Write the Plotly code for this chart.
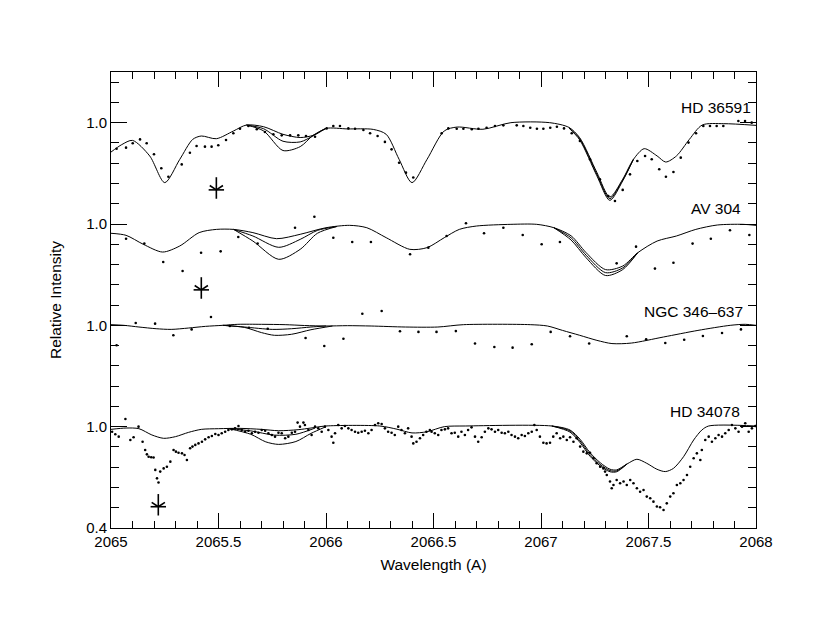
import plotly.graph_objects as go

# ---------------- data (relative intensity, each spectrum shifted by an offset) ----------------
offsets = {"HD 36591": 1.8, "AV 304": 1.2, "NGC 346–637": 0.6, "HD 34078": 0.0}

# HD 36591
hd36591_model_wl = [2065.00, 2065.05, 2065.10, 2065.18, 2065.25, 2065.32, 2065.38, 2065.42, 2065.49, 2065.57,
                    2065.63, 2065.71, 2065.80, 2065.88, 2065.94, 2066.00, 2066.10, 2066.22, 2066.28, 2066.34,
                    2066.40, 2066.47, 2066.55, 2066.61, 2066.73, 2066.86, 2067.04, 2067.13, 2067.18, 2067.26,
                    2067.32, 2067.38, 2067.43, 2067.48, 2067.54, 2067.58, 2067.63, 2067.69, 2067.75, 2067.85, 2068.00]
hd36591_model = [0.826, 0.870, 0.895, 0.803, 0.645, 0.783, 0.901, 0.921, 0.905, 0.951,
                 0.986, 0.976, 0.931, 0.912, 0.925, 0.966, 0.963, 0.960, 0.931, 0.783,
                 0.645, 0.783, 0.951, 0.974, 0.961, 1.000, 1.000, 0.972, 0.911, 0.705,
                 0.560, 0.665, 0.783, 0.846, 0.803, 0.767, 0.803, 0.901, 0.986, 0.994, 0.984]
hd36591_var_wl_a = [2065.63, 2065.71, 2065.80, 2065.88, 2065.94, 2066.00]
hd36591_var_mid_a = [0.986, 0.964, 0.890, 0.886, 0.922, 0.966]
hd36591_var_deep_a = [0.986, 0.951, 0.835, 0.858, 0.925, 0.966]
hd36591_var_wl_b = [2067.13, 2067.18, 2067.26, 2067.32, 2067.38, 2067.43]
hd36591_var_mid_b = [0.970, 0.905, 0.695, 0.550, 0.660, 0.783]
hd36591_var_deep_b = [0.968, 0.898, 0.685, 0.540, 0.655, 0.783]
hd36591_obs_wl = [2065.026, 2065.070, 2065.101, 2065.135, 2065.166, 2065.200, 2065.234, 2065.267, 2065.329, 2065.367,
                  2065.398, 2065.437, 2065.468, 2065.499, 2065.535, 2065.569, 2065.600, 2065.639, 2065.678, 2065.716,
                  2065.755, 2065.794, 2065.833, 2065.871, 2065.907, 2065.949, 2066.003, 2066.034, 2066.065, 2066.104,
                  2066.135, 2066.174, 2066.205, 2066.240, 2066.274, 2066.305, 2066.340, 2066.372, 2066.406, 2066.538,
                  2066.569, 2066.608, 2066.639, 2066.678, 2066.709, 2066.747, 2066.786, 2066.825, 2066.887, 2066.918,
                  2066.950, 2066.981, 2067.011, 2067.043, 2067.074, 2067.107, 2067.143, 2067.181, 2067.228, 2067.274,
                  2067.313, 2067.344, 2067.380, 2067.414, 2067.448, 2067.484, 2067.515, 2067.550, 2067.581, 2067.616,
                  2067.650, 2067.686, 2067.721, 2067.755, 2067.786, 2067.817, 2067.848, 2067.918, 2067.949, 2067.980]
hd36591_obs = [0.846, 0.852, 0.878, 0.901, 0.878, 0.813, 0.730, 0.680, 0.753, 0.822,
               0.862, 0.858, 0.858, 0.866, 0.897, 0.937, 0.964, 0.980, 0.961, 0.945,
               0.931, 0.925, 0.925, 0.925, 0.921, 0.917, 0.966, 0.980, 0.980, 0.966,
               0.964, 0.957, 0.937, 0.921, 0.886, 0.842, 0.763, 0.704, 0.675, 0.937,
               0.966, 0.964, 0.964, 0.961, 0.964, 0.970, 0.980, 0.984, 0.984, 0.980,
               0.970, 0.964, 0.964, 0.970, 0.976, 0.966, 0.937, 0.892, 0.783, 0.665,
               0.566, 0.536, 0.602, 0.694, 0.773, 0.803, 0.783, 0.724, 0.680, 0.708,
               0.793, 0.882, 0.937, 0.980, 0.980, 0.980, 0.980, 1.010, 1.010, 1.000]

# AV 304
av304_model_wl = [2065.00, 2065.07, 2065.15, 2065.24, 2065.32, 2065.41, 2065.49, 2065.57, 2065.66, 2065.77,
                  2065.88, 2066.00, 2066.11, 2066.19, 2066.28, 2066.39, 2066.47, 2066.55, 2066.62, 2066.70,
                  2066.86, 2066.98, 2067.06, 2067.14, 2067.21, 2067.30, 2067.38, 2067.45, 2067.54, 2067.63,
                  2067.72, 2067.82, 2067.94, 2068.00]
av304_model = [0.945, 0.933, 0.880, 0.834, 0.870, 0.949, 0.968, 0.968, 0.949, 0.913,
               0.939, 0.978, 0.992, 0.978, 0.919, 0.850, 0.860, 0.919, 0.968, 0.988,
               0.998, 0.998, 0.978, 0.930, 0.830, 0.730, 0.751, 0.830, 0.899, 0.929,
               0.968, 0.994, 0.998, 0.992]
av304_var_wl_a = [2065.57, 2065.66, 2065.78, 2065.88, 2065.96, 2066.05]
av304_var_mid_a = [0.968, 0.929, 0.862, 0.909, 0.962, 0.985]
av304_var_deep_a = [0.968, 0.899, 0.791, 0.850, 0.945, 0.985]
av304_var_wl_b = [2067.06, 2067.14, 2067.21, 2067.30, 2067.38, 2067.45]
av304_var_mid_b = [0.978, 0.918, 0.815, 0.712, 0.740, 0.830]
av304_var_deep_b = [0.978, 0.905, 0.800, 0.695, 0.730, 0.830]
av304_obs_wl = [2065.070, 2065.155, 2065.243, 2065.333, 2065.419, 2065.510, 2065.592, 2065.682, 2065.856, 2065.946,
                2066.034, 2066.122, 2066.209, 2066.391, 2066.476, 2066.561, 2066.651, 2066.735, 2066.825, 2066.915,
                2067.003, 2067.088, 2067.352, 2067.442, 2067.530, 2067.616, 2067.705, 2067.790, 2067.879, 2067.969]
av304_obs = [0.913, 0.884, 0.775, 0.722, 0.830, 0.838, 0.923, 0.884, 0.978, 1.043,
             0.919, 0.893, 0.893, 0.821, 0.860, 0.929, 1.004, 0.945, 0.978, 0.935,
             0.880, 0.893, 0.767, 0.866, 0.736, 0.771, 0.884, 0.913, 0.963, 0.935]

# NGC 346-637
ngc346_model_wl = [2065.00, 2065.06, 2065.13, 2065.21, 2065.28, 2065.36, 2065.44, 2065.52, 2065.59, 2065.70,
                   2065.81, 2065.90, 2066.00, 2066.10, 2066.21, 2066.37, 2066.52, 2066.64, 2066.95, 2067.03,
                   2067.10, 2067.18, 2067.26, 2067.33, 2067.42, 2067.57, 2067.73, 2067.88, 2067.95, 2068.00]
ngc346_model = [1.004, 1.000, 0.990, 0.980, 0.976, 0.984, 0.994, 1.000, 1.006, 1.006,
                1.004, 0.999, 0.996, 0.998, 0.996, 0.990, 0.990, 1.004, 1.004, 0.996,
                0.970, 0.941, 0.911, 0.892, 0.895, 0.931, 0.970, 1.000, 1.006, 1.000]
ngc346_var_wl_mid = [2065.52, 2065.62, 2065.75, 2065.84, 2065.93, 2066.00]
ngc346_var_mid = [1.000, 0.990, 0.976, 0.980, 0.990, 0.996]
ngc346_var_wl_deep = [2065.52, 2065.62, 2065.70, 2065.76, 2065.84, 2065.93, 2066.03]
ngc346_var_deep = [1.000, 0.988, 0.957, 0.941, 0.947, 0.974, 0.996]
ngc346_obs_wl = [2065.026, 2065.115, 2065.205, 2065.290, 2065.375, 2065.465, 2065.553, 2065.642, 2065.729, 2065.905,
                 2065.992, 2066.081, 2066.169, 2066.259, 2066.344, 2066.430, 2066.514, 2066.604, 2066.693, 2066.783,
                 2066.868, 2066.957, 2067.045, 2067.135, 2067.224, 2067.399, 2067.489, 2067.578, 2067.666, 2067.753,
                 2067.842, 2067.930]
ngc346_obs = [0.882, 1.014, 1.010, 0.941, 0.976, 1.049, 0.996, 0.986, 0.980, 0.925,
              0.878, 0.921, 1.069, 1.085, 0.965, 0.961, 0.961, 0.966, 0.892, 0.872,
              0.868, 0.888, 0.961, 0.935, 0.892, 0.935, 0.917, 0.895, 0.915, 0.937,
              0.955, 0.976]

# HD 34078
hd34078_model_wl = [2065.00, 2065.07, 2065.13, 2065.19, 2065.245, 2065.30, 2065.36, 2065.42, 2065.50, 2065.60,
                    2065.70, 2065.78, 2065.87, 2065.93, 2066.00, 2066.25, 2066.33, 2066.40, 2066.47, 2066.55,
                    2066.65, 2067.05, 2067.135, 2067.182, 2067.228, 2067.275, 2067.321, 2067.352, 2067.40, 2067.446,
                    2067.492, 2067.539, 2067.578, 2067.616, 2067.663, 2067.71, 2067.748, 2067.78, 2068.00]
hd34078_model = [0.984, 0.992, 0.988, 0.951, 0.931, 0.941, 0.966, 0.984, 0.988, 0.990,
                 0.984, 0.976, 0.982, 0.992, 1.004, 1.004, 0.985, 0.963, 0.970, 1.000,
                 1.004, 1.004, 0.980, 0.925, 0.846, 0.787, 0.748, 0.744, 0.779, 0.807,
                 0.783, 0.748, 0.734, 0.753, 0.822, 0.921, 0.980, 1.004, 1.004]
hd34078_var_wl_mid = [2065.55, 2065.65, 2065.76, 2065.86, 2065.95]
hd34078_var_mid = [0.988, 0.975, 0.950, 0.955, 0.992]
hd34078_var_wl_deep = [2065.55, 2065.65, 2065.72, 2065.78, 2065.86, 2065.93, 2066.00]
hd34078_var_deep = [0.988, 0.955, 0.910, 0.895, 0.912, 0.960, 1.000]
hd34078_var_wl_b = [2067.05, 2067.135, 2067.182, 2067.228, 2067.275, 2067.321, 2067.352, 2067.40]
hd34078_var_mid_b = [1.004, 0.975, 0.915, 0.835, 0.777, 0.740, 0.738, 0.779]
hd34078_var_deep_b = [1.004, 0.968, 0.905, 0.825, 0.768, 0.733, 0.733, 0.779]
hd34078_obs_wl = [
    2065.005, 2065.020, 2065.036, 2065.067, 2065.090, 2065.105, 2065.128, 2065.147, 2065.159, 2065.167,
    2065.175, 2065.187, 2065.198, 2065.206, 2065.214, 2065.221, 2065.229, 2065.245, 2065.260, 2065.276,
    2065.291, 2065.302, 2065.314, 2065.330, 2065.342, 2065.353, 2065.368, 2065.379, 2065.392, 2065.407,
    2065.423, 2065.438, 2065.454, 2065.469, 2065.485, 2065.500, 2065.515, 2065.531, 2065.546, 2065.562,
    2065.577, 2065.593, 2065.608, 2065.624, 2065.639, 2065.655, 2065.670, 2065.686, 2065.701, 2065.717,
    2065.732, 2065.748, 2065.763, 2065.779, 2065.794, 2065.810, 2065.825, 2065.841, 2065.856, 2065.868,
    2065.879, 2065.895, 2065.902, 2065.918, 2065.933, 2065.949, 2065.964, 2065.980, 2065.995, 2066.011,
    2066.026, 2066.034, 2066.042, 2066.057, 2066.073, 2066.088, 2066.104, 2066.119, 2066.135, 2066.150,
    2066.166, 2066.181, 2066.197, 2066.212, 2066.228, 2066.243, 2066.259, 2066.274, 2066.289, 2066.305,
    2066.320, 2066.336, 2066.351, 2066.367, 2066.382, 2066.398, 2066.406, 2066.421, 2066.437, 2066.452,
    2066.467, 2066.483, 2066.491, 2066.506, 2066.522, 2066.537, 2066.553, 2066.568, 2066.584, 2066.599,
    2066.615, 2066.630, 2066.646, 2066.661, 2066.677, 2066.693, 2066.708, 2066.724, 2066.739, 2066.755,
    2066.770, 2066.786, 2066.801, 2066.817, 2066.832, 2066.848, 2066.863, 2066.879, 2066.894, 2066.910,
    2066.925, 2066.941, 2066.957, 2066.969, 2066.980, 2066.995, 2067.011, 2067.026, 2067.042, 2067.057,
    2067.073, 2067.089, 2067.104, 2067.120, 2067.135, 2067.151, 2067.166, 2067.182, 2067.197, 2067.213,
    2067.228, 2067.244, 2067.259, 2067.275, 2067.290, 2067.298, 2067.306, 2067.321, 2067.329, 2067.337,
    2067.352, 2067.368, 2067.384, 2067.399, 2067.415, 2067.430, 2067.446, 2067.461, 2067.477, 2067.492,
    2067.508, 2067.523, 2067.539, 2067.554, 2067.570, 2067.585, 2067.601, 2067.616, 2067.632, 2067.648,
    2067.663, 2067.679, 2067.694, 2067.710, 2067.725, 2067.741, 2067.748, 2067.764, 2067.780, 2067.795,
    2067.811, 2067.826, 2067.842, 2067.857, 2067.873, 2067.888, 2067.904, 2067.919, 2067.935, 2067.950,
    2067.966, 2067.981, 2067.997]
hd34078_obs = [
    0.970, 0.955, 0.941, 1.045, 0.921, 0.937, 1.000, 0.911, 0.862, 0.836,
    0.822, 0.819, 0.817, 0.744, 0.694, 0.669, 0.734, 0.753, 0.763, 0.793,
    0.862, 0.852, 0.846, 0.842, 0.832, 0.803, 0.872, 0.882, 0.892, 0.901,
    0.911, 0.925, 0.937, 0.945, 0.957, 0.951, 0.961, 0.970, 0.980, 0.984,
    0.990, 1.004, 0.980, 0.970, 0.976, 0.961, 0.970, 0.964, 0.980, 0.976,
    0.961, 0.951, 0.941, 0.964, 0.961, 0.931, 0.941, 0.964, 0.970, 1.024,
    1.000, 1.024, 1.010, 0.980, 0.951, 1.000, 0.990, 0.970, 1.000, 0.980,
    0.941, 0.905, 0.961, 1.010, 0.990, 1.004, 0.990, 0.980, 0.970, 0.964,
    0.970, 0.976, 0.961, 0.980, 1.010, 1.020, 1.016, 0.990, 0.970, 0.964,
    0.951, 1.000, 0.980, 0.961, 0.990, 0.941, 0.901, 0.911, 0.931, 0.951,
    0.970, 0.980, 0.970, 0.961, 0.951, 0.980, 0.984, 0.990, 0.961, 0.964,
    0.941, 0.970, 0.951, 0.980, 0.996, 0.941, 0.911, 0.937, 0.970, 0.990,
    0.984, 0.970, 0.980, 0.964, 0.961, 0.970, 0.951, 0.941, 0.931, 0.951,
    0.945, 0.961, 0.970, 1.010, 0.980, 0.941, 0.905, 0.901, 0.905, 0.941,
    0.961, 0.931, 0.941, 0.921, 0.937, 0.911, 0.931, 0.882, 0.852, 0.842,
    0.846, 0.813, 0.783, 0.763, 0.753, 0.734, 0.714, 0.675, 0.635, 0.655,
    0.684, 0.665, 0.675, 0.655, 0.684, 0.665, 0.635, 0.615, 0.625, 0.586,
    0.576, 0.556, 0.527, 0.523, 0.507, 0.546, 0.586, 0.606, 0.655, 0.665,
    0.684, 0.714, 0.763, 0.813, 0.842, 0.803, 0.862, 0.921, 0.941, 0.911,
    0.931, 0.951, 0.941, 0.961, 0.980, 1.010, 0.990, 0.970, 1.000, 1.020,
    0.970, 0.990, 1.004]

# interstellar-line markers (stars)
star_names = ["HD 36591", "AV 304", "HD 34078"]
star_wl = [2065.49, 2065.42, 2065.22]
star_rel = [0.602, 0.610, 0.526]

# labels
label_names = ["HD 36591", "AV 304", "NGC 346–637", "HD 34078"]
label_wl = [2067.985, 2067.94, 2067.95, 2067.935]
label_rel = [1.087, 1.092, 1.080, 1.090]

x_tick_step = 0.5
y_major_ticks = [0.4, 1.0, 1.6, 2.2, 2.8]
y_major_text = ["0.4", "1.0", "1.0", "1.0", "1.0"]

# ---------------- figure ----------------
fig = go.Figure()
LINE = dict(color="black", width=1)
FAMILY = "Liberation Sans, Arial, sans-serif"


def shift(vals, name):
    return [v + offsets[name] for v in vals]


def add_line(wl, vals, name):
    fig.add_trace(go.Scatter(x=wl, y=shift(vals, name), mode="lines", line=dict(LINE, shape="spline", smoothing=0.8),
                             showlegend=False, hoverinfo="skip"))


def add_dots(wl, vals, name):
    fig.add_trace(go.Scatter(x=wl, y=shift(vals, name), mode="markers",
                             marker=dict(color="black", size=2.6, line=dict(width=0)),
                             showlegend=False, hoverinfo="skip"))


add_line(hd36591_model_wl, hd36591_model, "HD 36591")
add_line(hd36591_var_wl_a, hd36591_var_mid_a, "HD 36591")
add_line(hd36591_var_wl_a, hd36591_var_deep_a, "HD 36591")
add_line(hd36591_var_wl_b, hd36591_var_mid_b, "HD 36591")
add_line(hd36591_var_wl_b, hd36591_var_deep_b, "HD 36591")
add_dots(hd36591_obs_wl, hd36591_obs, "HD 36591")

add_line(av304_model_wl, av304_model, "AV 304")
add_line(av304_var_wl_a, av304_var_mid_a, "AV 304")
add_line(av304_var_wl_a, av304_var_deep_a, "AV 304")
add_line(av304_var_wl_b, av304_var_mid_b, "AV 304")
add_line(av304_var_wl_b, av304_var_deep_b, "AV 304")
add_dots(av304_obs_wl, av304_obs, "AV 304")

add_line(ngc346_model_wl, ngc346_model, "NGC 346–637")
add_line(ngc346_var_wl_mid, ngc346_var_mid, "NGC 346–637")
add_line(ngc346_var_wl_deep, ngc346_var_deep, "NGC 346–637")
add_dots(ngc346_obs_wl, ngc346_obs, "NGC 346–637")

add_line(hd34078_model_wl, hd34078_model, "HD 34078")
add_line(hd34078_var_wl_mid, hd34078_var_mid, "HD 34078")
add_line(hd34078_var_wl_deep, hd34078_var_deep, "HD 34078")
add_line(hd34078_var_wl_b, hd34078_var_mid_b, "HD 34078")
add_line(hd34078_var_wl_b, hd34078_var_deep_b, "HD 34078")
add_dots(hd34078_obs_wl, hd34078_obs, "HD 34078")

star_y = [r + offsets[n] for r, n in zip(star_rel, star_names)]
# star glyph: lower spokes + long upward stroke, plus the two side spokes
fig.add_trace(go.Scatter(
    x=star_wl, y=star_y, mode="markers",
    marker=dict(symbol="y-down-open", size=11, color="black", line=dict(color="black", width=1.6)),
    error_y=dict(type="data", symmetric=False, array=[0.075] * len(star_wl), arrayminus=[0] * len(star_wl),
                 color="black", thickness=1.6, width=0),
    showlegend=False, hoverinfo="skip"))
fig.add_trace(go.Scatter(
    x=star_wl, y=star_y, mode="markers",
    marker=dict(symbol="line-ew-open", size=11, color="black", line=dict(color="black", width=1.6)),
    showlegend=False, hoverinfo="skip"))

for n, wl, r in zip(label_names, label_wl, label_rel):
    fig.add_annotation(x=wl, y=r + offsets[n], text=n, showarrow=False, xanchor="right", yanchor="middle",
                       font=dict(family=FAMILY, size=15.5, color="black"))

AX_FONT = dict(family=FAMILY, size=15, color="black")
fig.update_layout(
    width=822, height=632,
    margin=dict(l=103, r=74, t=64, b=112),
    paper_bgcolor="white", plot_bgcolor="white",
    font=AX_FONT,
    xaxis=dict(range=[2065, 2068], tick0=2065, dtick=x_tick_step, tickformat=".1~f", ticks="inside", ticklen=15,
               tickwidth=1, tickcolor="black", showline=True, linecolor="black", linewidth=1, mirror="ticks",
               showgrid=False, zeroline=False, tickfont=AX_FONT,
               minor=dict(dtick=0.1, tick0=2065, ticks="inside", ticklen=7, tickcolor="black", tickwidth=1, showgrid=False),
               title=dict(text="Wavelength (A)", font=dict(family=FAMILY, size=15.5), standoff=10)),
    yaxis=dict(range=[0.4, 3.1], tickmode="array", tickvals=y_major_ticks, ticktext=y_major_text,
               ticks="inside", ticklen=16, tickwidth=1, tickcolor="black", showline=True, linecolor="black",
               linewidth=1, mirror="ticks", showgrid=False, zeroline=False, tickfont=AX_FONT,
               minor=dict(tickmode="linear", tick0=0.4, dtick=0.12, ticks="inside", ticklen=8, tickcolor="black",
                          tickwidth=1, showgrid=False),
               title=dict(text="Relative Intensity", font=dict(family=FAMILY, size=15.5), standoff=20)),
)

fig.write_html("out.html")
